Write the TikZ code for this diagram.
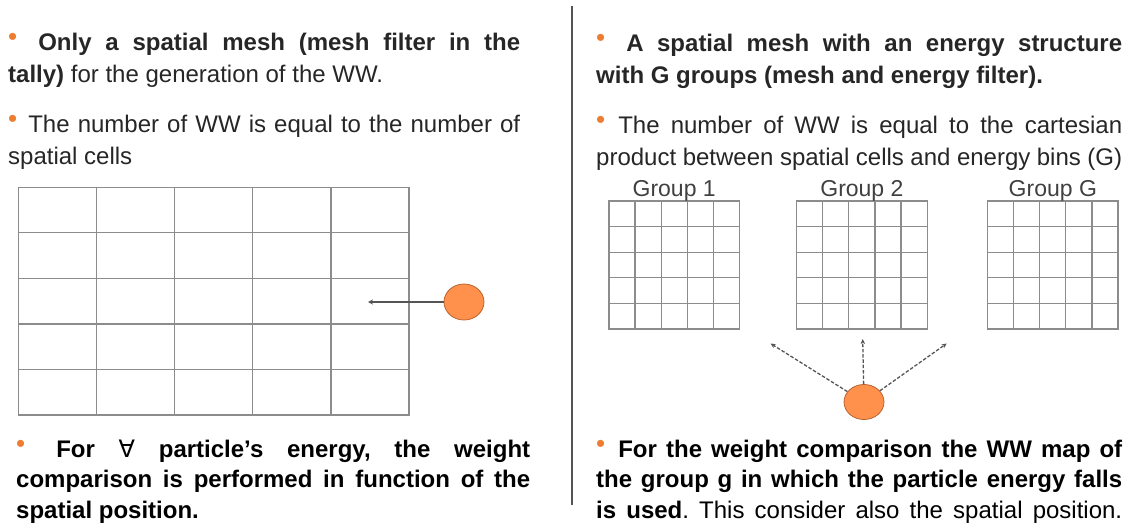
\documentclass[tikz,border=0pt]{standalone}
\usepackage{fontspec}
\setmainfont{Liberation Sans}
\newfontfamily\symbolfont{DejaVu Sans}
\usetikzlibrary{arrows.meta, positioning, shapes.geometric, calc}
\definecolor{bulorange}{HTML}{ED7D31}
\definecolor{ballfill}{HTML}{FF914D}
\definecolor{balledge}{HTML}{B8622C}
\definecolor{meshgray}{HTML}{8C8C8C}
\definecolor{inkgray}{HTML}{262626}
\definecolor{labelgray}{HTML}{404040}
\definecolor{linegray}{HTML}{555555}
\tolerance=9999
\hbadness=10000
\frenchspacing
\newcommand{\bul}{\raisebox{5pt}{\fontsize{26}{26}\selectfont\textcolor{bulorange}{•}}}

\begin{document}
\begin{tikzpicture}[
  x=1pt, y=-1pt,
  every node/.style={inner sep=0pt},
  para/.style={anchor=base west, text width=#1, align=justify, text=inkgray, font=\fontsize{24}{32}\selectfont},
  lowpara/.style={para=#1, text=black, font=\fontsize{24}{30.5}\selectfont},
  mesh/.style={rectangle, draw=meshgray, line width=1.2pt, outer sep=0pt},
  meshline/.style={draw=meshgray, line width=1.2pt},
  grouplabel/.style={anchor=base, text=labelgray, font=\fontsize{23}{23}\selectfont},
  ball/.style={ellipse, draw=balledge, fill=ballfill, line width=0.8pt, minimum width=40pt, minimum height=36pt},
  hitarrow/.style={-{Stealth[length=5pt, width=5pt]}, line width=1.7pt, draw=linegray},
  pickarrow/.style={-{Stealth[length=5pt, width=4.5pt]}, line width=1.3pt, draw=linegray, dash pattern=on 3.5pt off 1.8pt},
  divider/.style={line width=2pt, draw=linegray}
]
  \useasboundingbox (0,0) rectangle (1131,524);

  % left column: spatial mesh only
  \node[para=512pt] (spatialonly) at (8,51) {\bul\hspace{21pt}\textbf{Only a spatial mesh (mesh filter in the\linebreak tally)} for the generation of the WW.};
  \node[para=512pt] (wwcount) at (8,132) {\bul\hspace{11pt}The number of WW is equal to the number of\linebreak spatial cells};

  \node[mesh, minimum width=390.5pt, minimum height=227.7pt] (spmesh) at (213.75,301.15) {};
  \foreach \k in {1,...,4} {
    \draw[meshline] ($(spmesh.north west)!\k/5!(spmesh.north east)$) -- ($(spmesh.south west)!\k/5!(spmesh.south east)$);
    \draw[meshline] ($(spmesh.north west)!\k/5!(spmesh.south west)$) -- ($(spmesh.north east)!\k/5!(spmesh.south east)$);
  }

  \node[ball] (ballL) at (464,302) {};
  \coordinate (hitL) at (368,302);
  \draw[hitarrow] (ballL) -- (hitL);

  \node[lowpara=514pt] (anyenergy) at (16,457) {\bul\hspace{31pt}\textbf{For {\symbolfont\mdseries ∀} particle’s energy, the weight\linebreak comparison is performed in function of the\linebreak spatial position.}};

  % divider
  \coordinate (divtop) at (571.7,6);
  \coordinate (divbot) at (571.7,505);
  \draw[divider] (divtop) -- (divbot);

  % right column: mesh and energy groups
  \node[para=526pt] (energymesh) at (596,52) {\bul\hspace{21pt}\textbf{A spatial mesh with an energy structure\linebreak with G groups (mesh and energy filter).}};
  \node[para=526pt] (wwproduct) at (596,133) {\bul\hspace{13pt}The number of WW is equal to the cartesian\linebreak product between spatial cells and energy bins (G)};

  \foreach \gx/\gname/\glab in {674.2/gone/Group 1, 861.9/gtwo/Group 2, 1052.8/glast/Group G} {
    \node[mesh, minimum width=130.5pt, minimum height=128pt] (\gname) at (\gx,265) {};
    \node[grouplabel] (\gname-lab) at ([yshift=5pt]\gname.north) {\glab};
    \foreach \k in {1,...,4} {
      \draw[meshline] ($(\gname.north west)!\k/5!(\gname.north east)$) -- ($(\gname.south west)!\k/5!(\gname.south east)$);
      \draw[meshline] ($(\gname.north west)!\k/5!(\gname.south west)$) -- ($(\gname.north east)!\k/5!(\gname.south east)$);
    }
  }

  \node[ball, minimum height=35pt] (ballR) at (864,402) {};
  \coordinate (pickA) at (770.5,343.5);
  \coordinate (pickB) at (862.7,339);
  \coordinate (pickC) at (946.7,343.5);
  \draw[pickarrow] (ballR) -- (pickA);
  \draw[pickarrow] (ballR) -- (pickB);
  \draw[pickarrow] (ballR) -- (pickC);

  \node[lowpara=526pt] (groupmap) at (596,457) {\bul\hspace{13pt}\textbf{For the weight comparison the WW map of\linebreak the group g in which the particle energy falls\linebreak is used}. This consider also the spatial position.\parfillskip=0pt\par};

\end{tikzpicture}
\end{document}
